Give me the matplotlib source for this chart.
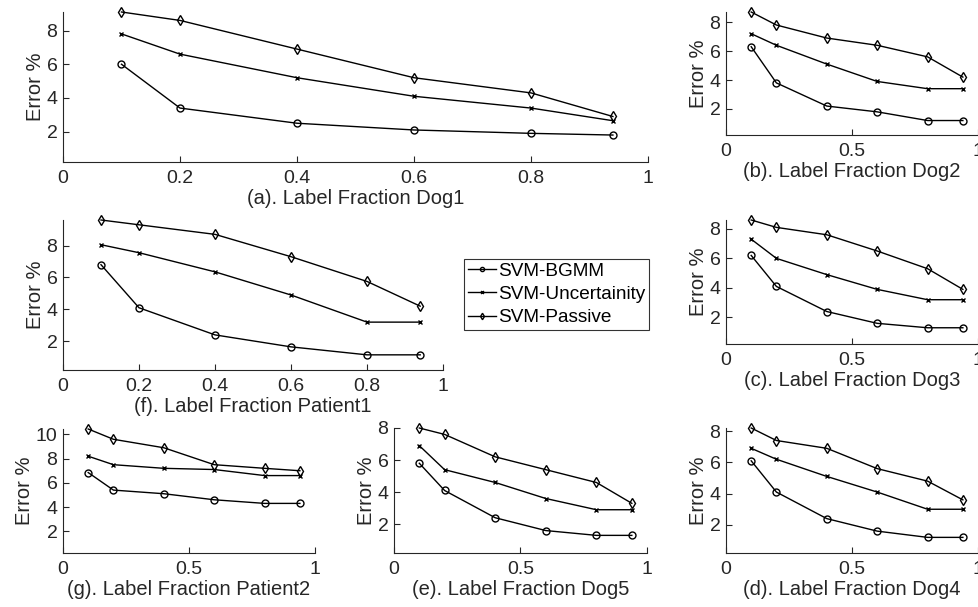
import matplotlib
matplotlib.use("Agg")
import matplotlib.pyplot as plt

plt.rcParams['font.family'] = ['Liberation Sans', 'DejaVu Sans']

fractions = [0.1, 0.2, 0.4, 0.6, 0.8, 0.94]
series_names = ["SVM-BGMM", "SVM-Uncertainity", "SVM-Passive"]

titles = {
    "a": "(a). Label Fraction Dog1",
    "b": "(b). Label Fraction Dog2",
    "c": "(c). Label Fraction Dog3",
    "d": "(d). Label Fraction Dog4",
    "e": "(e). Label Fraction Dog5",
    "f": "(f). Label Fraction Patient1",
    "g": "(g). Label Fraction Patient2",
}

bgmm_a = [6.0, 3.4, 2.5, 2.1, 1.9, 1.8]
unc_a = [7.8, 6.6, 5.2, 4.1, 3.4, 2.65]
pas_a = [9.1, 8.6, 6.9, 5.2, 4.3, 2.9]

bgmm_b = [6.3, 3.8, 2.2, 1.8, 1.2, 1.2]
unc_b = [7.2, 6.4, 5.1, 3.9, 3.4, 3.4]
pas_b = [8.7, 7.8, 6.9, 6.4, 5.6, 4.2]

bgmm_c = [6.2, 4.1, 2.4, 1.6, 1.3, 1.3]
unc_c = [7.3, 6.0, 4.9, 3.9, 3.2, 3.2]
pas_c = [8.6, 8.1, 7.6, 6.5, 5.3, 3.9]

bgmm_d = [6.1, 4.1, 2.4, 1.6, 1.2, 1.2]
unc_d = [6.9, 6.2, 5.1, 4.1, 3.0, 3.0]
pas_d = [8.2, 7.4, 6.9, 5.6, 4.8, 3.6]

bgmm_e = [5.8, 4.1, 2.4, 1.6, 1.3, 1.3]
unc_e = [6.9, 5.4, 4.6, 3.6, 2.9, 2.9]
pas_e = [8.0, 7.6, 6.2, 5.4, 4.6, 3.3]

bgmm_f = [6.8, 4.1, 2.4, 1.65, 1.15, 1.15]
unc_f = [8.05, 7.55, 6.35, 4.9, 3.2, 3.2]
pas_f = [9.6, 9.3, 8.7, 7.3, 5.75, 4.2]

bgmm_g = [6.85, 5.4, 5.1, 4.6, 4.3, 4.3]
unc_g = [8.2, 7.5, 7.2, 7.1, 6.6, 6.6]
pas_g = [10.45, 9.6, 8.9, 7.5, 7.2, 7.0]

data = {
    "a": (bgmm_a, unc_a, pas_a),
    "b": (bgmm_b, unc_b, pas_b),
    "c": (bgmm_c, unc_c, pas_c),
    "d": (bgmm_d, unc_d, pas_d),
    "e": (bgmm_e, unc_e, pas_e),
    "f": (bgmm_f, unc_f, pas_f),
    "g": (bgmm_g, unc_g, pas_g),
}

W, H = 979, 607
# pixel boxes: left, right, top, bottom
boxes = {
    "a": (63, 648, 12, 162),
    "b": (726, 978, 12, 135),
    "f": (63, 443, 220, 370),
    "c": (726, 978, 220, 344),
    "g": (63, 315, 429, 553),
    "e": (394, 647, 428, 553),
    "d": (726, 978, 428, 553),
}
xticks_wide = [0, 0.2, 0.4, 0.6, 0.8, 1]
xticks_narrow = [0, 0.5, 1]
xtick_labels_wide = ["0", "0.2", "0.4", "0.6", "0.8", "1"]
xtick_labels_narrow = ["0", "0.5", "1"]

markers = ["o", "x", "d"]
msizes = [5, 3.5, 5.5]
gray = "#262626"

fig = plt.figure(figsize=(W / 100, H / 100), dpi=100)
handles = None
for key, (l, r, t, b) in boxes.items():
    ax = fig.add_axes([l / W, 1 - b / H, (r - l) / W, (b - t) / H])
    hs = []
    for vals, m, ms, name in zip(data[key], markers, msizes, series_names):
        h, = ax.plot(fractions, vals, color="black", lw=1.0, marker=m,
                     markersize=ms, markerfacecolor="none",
                     markeredgecolor="black", markeredgewidth=1.0, label=name)
        hs.append(h)
    if handles is None:
        handles = hs
    ymax = max(max(v) for v in data[key])
    ax.set_ylim(0.2, ymax)
    ax.set_xlim(0, 1)
    if key in ("a", "f"):
        ax.set_xticks(xticks_wide)
        ax.set_xticklabels(xtick_labels_wide)
    else:
        ax.set_xticks(xticks_narrow)
        ax.set_xticklabels(xtick_labels_narrow)
    if key == "g":
        ax.set_yticks([2, 4, 6, 8, 10])
    else:
        ax.set_yticks([2, 4, 6, 8])
    for s in ("top", "right"):
        ax.spines[s].set_visible(False)
    for s in ("bottom", "left"):
        ax.spines[s].set_color(gray)
        ax.spines[s].set_linewidth(0.8)
    ax.tick_params(direction="in", length=4, width=0.8, color=gray,
                   labelcolor=gray, labelsize=14)
    ax.tick_params(axis="x", pad=6)
    ax.tick_params(axis="y", pad=4)
    ax.set_xlabel(titles[key], fontsize=14.5, color=gray, labelpad=1)
    ax.set_ylabel("Error %", fontsize=14.5, color=gray, labelpad=1)
    for ln in ax.lines:
        ln.set_clip_on(False)

leg = fig.legend(handles=handles, labels=series_names, loc="upper left",
                 bbox_to_anchor=(464 / W, 1 - 259 / H), fontsize=13.7,
                 frameon=True, fancybox=False, edgecolor="black",
                 handlelength=1.5, handletextpad=0.1, labelspacing=0.3,
                 borderpad=0.2, borderaxespad=0, markerscale=0.6)
leg.get_frame().set_linewidth(0.8)

fig.savefig("out.png", dpi=100)
